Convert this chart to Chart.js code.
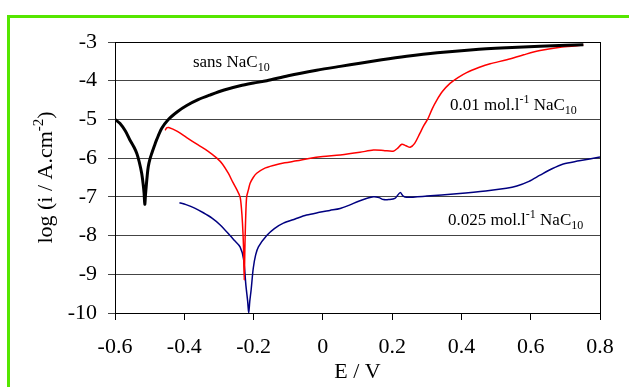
<!DOCTYPE html>
<html>
<head>
<meta charset="utf-8">
<script src="https://cdn.jsdelivr.net/npm/chart.js@4/dist/chart.umd.min.js"></script>
<style>
  html, body { margin: 0; padding: 0; background: #fff; }
  #wrap { width: 629px; height: 387px; position: relative; }
</style>
</head>
<body>
<div id="wrap"><canvas id="chart"></canvas></div>
<script>
// sans NaC10 (black)
const blackE = [-0.600, -0.586, -0.570, -0.557, -0.545, -0.537, -0.530, -0.523, -0.519, -0.516, -0.514, -0.512, -0.510, -0.507, -0.504, -0.499, -0.494, -0.487, -0.480, -0.465, -0.446, -0.420, -0.393, -0.360, -0.326, -0.285, -0.239, -0.200, -0.162, -0.100, -0.018, 0.050, 0.107, 0.170, 0.242, 0.330, 0.434, 0.530, 0.627, 0.700, 0.752];
const blackLog = [-5.00, -5.10, -5.30, -5.53, -5.72, -5.88, -6.10, -6.39, -6.65, -6.91, -7.19, -6.95, -6.74, -6.45, -6.22, -6.02, -5.88, -5.70, -5.53, -5.23, -5.00, -4.80, -4.64, -4.49, -4.37, -4.24, -4.13, -4.06, -4.00, -3.87, -3.73, -3.63, -3.55, -3.46, -3.37, -3.28, -3.20, -3.15, -3.11, -3.085, -3.07];

// 0.01 mol.l-1 NaC10 (red)
const redE = [-0.455, -0.451, -0.445, -0.420, -0.393, -0.360, -0.330, -0.306, -0.290, -0.273, -0.260, -0.248, -0.239, -0.235, -0.232, -0.229, -0.227, -0.225, -0.223, -0.220, -0.215, -0.210, -0.201, -0.191, -0.170, -0.143, -0.110, -0.075, -0.040, 0.000, 0.050, 0.107, 0.146, 0.175, 0.203, 0.215, 0.228, 0.240, 0.252, 0.265, 0.280, 0.292, 0.304, 0.316, 0.329, 0.345, 0.367, 0.390, 0.415, 0.450, 0.483, 0.531, 0.580, 0.627, 0.690, 0.752];
const redLog = [-5.28, -5.22, -5.21, -5.31, -5.47, -5.66, -5.83, -6.00, -6.15, -6.39, -6.62, -6.82, -7.00, -7.30, -7.68, -8.30, -9.15, -8.30, -7.60, -7.00, -6.82, -6.65, -6.50, -6.39, -6.27, -6.19, -6.12, -6.07, -6.01, -5.96, -5.92, -5.85, -5.79, -5.80, -5.82, -5.75, -5.64, -5.68, -5.72, -5.62, -5.36, -5.15, -4.97, -4.72, -4.50, -4.28, -4.07, -3.92, -3.79, -3.66, -3.56, -3.46, -3.33, -3.22, -3.13, -3.08];

// 0.025 mol.l-1 NaC10 (blue)
const blueE = [-0.414, -0.395, -0.370, -0.345, -0.320, -0.297, -0.268, -0.255, -0.239, -0.229, -0.222, -0.217, -0.214, -0.211, -0.207, -0.201, -0.194, -0.186, -0.162, -0.140, -0.114, -0.080, -0.047, -0.010, 0.020, 0.050, 0.075, 0.107, 0.146, 0.162, 0.175, 0.190, 0.208, 0.223, 0.232, 0.242, 0.300, 0.386, 0.470, 0.530, 0.560, 0.595, 0.627, 0.660, 0.694, 0.740, 0.800];
const blueLog = [-7.15, -7.20, -7.29, -7.41, -7.55, -7.72, -8.00, -8.13, -8.29, -8.60, -9.30, -9.70, -10.00, -9.70, -9.40, -8.85, -8.50, -8.29, -8.00, -7.82, -7.68, -7.57, -7.47, -7.40, -7.35, -7.30, -7.22, -7.10, -7.00, -7.02, -7.07, -7.07, -7.04, -6.89, -6.98, -7.01, -6.98, -6.92, -6.85, -6.78, -6.72, -6.60, -6.44, -6.28, -6.15, -6.07, -5.97];

const serif = "'Liberation Serif', 'Times New Roman', serif";

const toPoints = (xs, ys) => xs.map((x, i) => ({ x: x, y: ys[i] }));

// text with sub/superscripts
const drawRich = (ctx, parts, x, y, size) => {
  let cx = x;
  parts.forEach(p => {
    const small = p.sub || p.sup;
    const fs = small ? Math.round(size * 0.7) : size;
    ctx.font = fs + 'px ' + serif;
    const dy = p.sub ? size * 0.2 : p.sup ? -size * 0.4 : 0;
    ctx.fillText(p.t, cx, y + dy);
    cx += ctx.measureText(p.t).width;
  });
  return cx - x;
};

const measureRich = (ctx, parts, size) => {
  let w = 0;
  parts.forEach(p => {
    const fs = (p.sub || p.sup) ? Math.round(size * 0.7) : size;
    ctx.font = fs + 'px ' + serif;
    w += ctx.measureText(p.t).width;
  });
  return w;
};

const extras = {
  id: 'extras',
  beforeDraw(chart) {
    const ctx = chart.ctx;
    ctx.save();
    ctx.strokeStyle = '#55e600';
    ctx.lineWidth = 3;
    ctx.beginPath();
    ctx.moveTo(8.5, 387);
    ctx.lineTo(8.5, 16.5);
    ctx.lineTo(629, 16.5);
    ctx.stroke();
    ctx.restore();
  },
  afterDraw(chart) {
    const ctx = chart.ctx;
    const a = chart.chartArea;
    const xs = chart.scales.x, ys = chart.scales.y;
    ctx.save();
    ctx.strokeStyle = '#000';
    ctx.lineWidth = 1;
    ctx.strokeRect(Math.round(a.left) + 0.5, Math.round(a.top) + 0.5, Math.round(a.right - a.left), Math.round(a.bottom - a.top));

    ctx.fillStyle = '#000';
    ctx.textBaseline = 'alphabetic';
    ctx.textAlign = 'left';

    // curve labels
    drawRich(ctx, [{ t: 'sans NaC' }, { t: '10', sub: true }],
      xs.getPixelForValue(-0.375), ys.getPixelForValue(-3.65), 17);
    drawRich(ctx, [{ t: '0.01 mol.l' }, { t: '-1', sup: true }, { t: ' NaC' }, { t: '10', sub: true }],
      xs.getPixelForValue(0.367), ys.getPixelForValue(-4.76), 17);
    drawRich(ctx, [{ t: '0.025 mol.l' }, { t: '-1', sup: true }, { t: ' NaC' }, { t: '10', sub: true }],
      xs.getPixelForValue(0.361), ys.getPixelForValue(-7.73), 17);

    // y axis title
    const yParts = [{ t: 'log (i / A.cm' }, { t: '-2', sup: true }, { t: ')' }];
    const w = measureRich(ctx, yParts, 22);
    ctx.translate(52, (a.top + a.bottom) / 2);
    ctx.rotate(-Math.PI / 2);
    drawRich(ctx, yParts, -w / 2, 0, 22);
    ctx.restore();
  }
};

new Chart(document.getElementById('chart'), {
  type: 'scatter',
  data: {
    datasets: [
      { label: 'sans NaC10', data: toPoints(blackE, blackLog), borderColor: '#000000', borderWidth: 3 },
      { label: '0.01 mol.l-1 NaC10', data: toPoints(redE, redLog), borderColor: '#ff0000', borderWidth: 1.5 },
      { label: '0.025 mol.l-1 NaC10', data: toPoints(blueE, blueLog), borderColor: '#000080', borderWidth: 1.5 }
    ].map(d => Object.assign(d, { showLine: true, pointRadius: 0, tension: 0.3, fill: false }))
  },
  options: {
    responsive: true,
    maintainAspectRatio: false,
    animation: false,
    layout: { padding: { top: 42, right: 29, left: 0, bottom: 0 } },
    plugins: { legend: { display: false }, tooltip: { enabled: false } },
    scales: {
      x: {
        type: 'linear',
        min: -0.6,
        max: 0.8,
        afterFit: s => { s.height = 74; },
        ticks: {
          stepSize: 0.2,
          color: '#000',
          padding: 14,
          font: { family: serif, size: 22 },
          callback: v => String(Math.round(v * 10) / 10)
        },
        grid: { drawOnChartArea: false, drawTicks: true, tickLength: 7, color: '#000' },
        border: { display: true, color: '#000' },
        title: { display: true, text: 'E / V', color: '#000', font: { family: serif, size: 22 }, padding: { top: 0, bottom: 2 } }
      },
      y: {
        min: -10,
        max: -3,
        afterFit: s => { s.width = 115; },
        ticks: {
          stepSize: 1,
          color: '#000',
          padding: 11,
          font: { family: serif, size: 22 }
        },
        grid: { color: '#444', tickLength: 7, lineWidth: 1 },
        border: { display: true, color: '#000' }
      }
    }
  },
  plugins: [extras]
});
</script>
</body>
</html>
